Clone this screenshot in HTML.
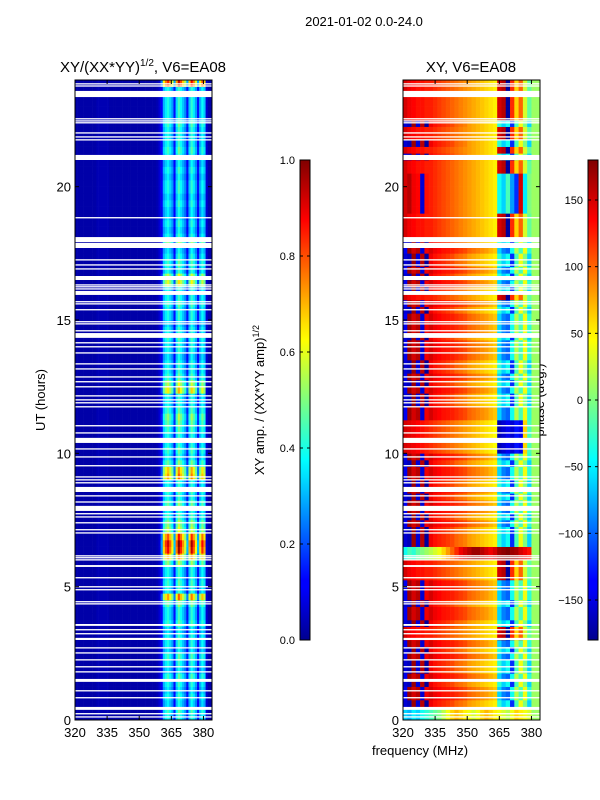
<!DOCTYPE html>
<html><head><meta charset="utf-8">
<style>
body{margin:0;background:#fff;}
svg{display:block;font-family:"Liberation Sans","DejaVu Sans",sans-serif;}
</style></head>
<body>
<svg id="fig" width="600" height="800" viewBox="0 0 600 800">
<rect x="0" y="0" width="600" height="800" fill="#fff"/>
<text x="364" y="26" font-size="13" text-anchor="middle">2021-01-02 0.0-24.0</text>
<text x="143" y="72" font-size="15" text-anchor="middle">XY/(XX*YY)<tspan font-size="10" dy="-6">1/2</tspan><tspan dy="6">, V6=EA08</tspan></text>
<text x="471" y="72" font-size="15" text-anchor="middle">XY, V6=EA08</text>
<text transform="translate(45,400) rotate(-90)" font-size="13" text-anchor="middle">UT (hours)</text>
<text transform="translate(264,400) rotate(-90)" font-size="13" text-anchor="middle">XY amp. / (XX*YY amp)<tspan font-size="9" dy="-5">1/2</tspan></text>
<text transform="translate(544,400) rotate(-90)" font-size="13" text-anchor="middle">phase (deg.)</text>
<text x="420" y="755" font-size="13" text-anchor="middle">frequency (MHz)</text>
<defs>
<linearGradient id="jetg" x1="0" y1="1" x2="0" y2="0">
<stop offset="0" stop-color="#00008f"/><stop offset="0.11" stop-color="#0000ff"/><stop offset="0.125" stop-color="#0000ff"/>
<stop offset="0.34" stop-color="#00dfff"/><stop offset="0.375" stop-color="#00ffff"/><stop offset="0.5" stop-color="#7fff7f"/>
<stop offset="0.625" stop-color="#ffff00"/><stop offset="0.66" stop-color="#ffdf00"/><stop offset="0.875" stop-color="#ff0000"/><stop offset="1" stop-color="#800000"/>
</linearGradient>
</defs>
<g id="ampCells"></g>
<g id="phsCells"></g>
<g id="axes"></g>
</svg>
<script>
// ---- data ----
const freqStart = 320, freqEnd = 384;
const ampChannels = 64;   // 1 MHz channels
const phsChannels = 32;   // 2 MHz channels
const timeBins = 96;      // quarter hours
const ampColBase = [0.04,0.04,0.04,0.04,0.04,0.04,0.04,0.04,0.04,0.04,0.05,0.05,0.05,0.05,0.05,0.05,0.04,0.04,0.04,0.04,
  0.04,0.04,0.04,0.04,0.04,0.04,0.04,0.04,0.04,0.04,0.04,0.04,0.04,0.04,0.04,0.04,0.04,0.04,0.05,0.08,
  0.12,0.3,0.36,0.4,0.34,0.28,0.14,0.34,0.44,0.38,0.32,0.26,0.14,0.32,0.42,0.36,0.28,0.14,0.3,0.38,0.32,0.08,0.04,0.04];
const ampRowGain = [1.0,1.1,0.9,1.0, 0.9,1.0,1.1,0.9, 1.0,1.1,0.9,1.0, 1.0,0.9,1.1,1.0, 1.0,1.2,1.8,1.0,
  1.1,1.0,1.0,1.3, 1.8,2.2,2.3,2.0, 1.4,1.3,1.1,1.0, 1.2,1.0,1.1,1.0, 1.8,1.7,1.2,1.0,
  1.1,1.0,1.0,1.1, 1.2,1.3,1.1,1.0, 1.0,1.6,1.4,1.1, 1.0,1.0,0.9,1.0, 1.0,1.1,1.0,0.9,
  1.0,1.0,1.1,1.0, 1.0,1.5,1.4,1.0, 1.1,1.0,0.9,1.3, 1.0,0.9,1.0,0.9, 0.9,1.0,0.9,1.0,
  1.0,0.9,1.0,0.9, 1.0,1.1,1.0,1.0, 1.0,1.1,1.0,1.0, 1.0,1.0,1.0,2.1];
const phaseProfiles = {
  A:[-140,170,150,160,-150,140,150,140,135,130,128,125,120,115,110,100,95,90,85,80,72,65,-60,-90,-100,-40,20,-20,40,-30,10,10],
  B:[150,140,135,130,130,125,125,120,115,110,105,100,95,90,85,80,75,70,65,60,55,50,150,160,-170,120,60,100,30,-10,10,10],
  C:[-150,-160,170,-150,160,-170,140,130,125,120,115,110,100,95,90,80,75,70,65,60,55,50,-30,-60,-40,-120,-20,40,0,-60,10,10],
  D:[-40,-20,-30,-10,0,10,20,30,40,60,80,100,120,140,150,160,170,170,160,150,140,150,170,175,180,170,165,150,140,130,10,10],
  E:[-60,-70,-50,-60,-40,-30,-20,-10,0,20,40,60,70,60,50,40,30,40,60,70,60,50,40,30,20,40,60,50,40,30,10,10],
  F:[150,145,140,135,130,125,120,115,110,105,100,95,90,85,80,75,70,65,60,55,50,45,-160,-150,-140,-150,-130,-140,60,-20,10,10],
  G:[150,160,140,135,-150,130,125,120,115,110,105,100,95,90,85,80,75,70,65,60,55,50,-40,-60,-20,-80,-120,150,-50,0,10,10]
};
const phaseRowType = "EECAACACCACABBCAACAAABBBDDCCCACAACACAACAFFFFFAACCACACCAAACAAACABCACACCACBBBBGGGGGGBBCBCBBCBBBBBB";
const flagStart = [23.83,23.75,23.36,22.52,22.44,22.37,21.99,21.84,21.73,21.0,18.81,17.92,17.7,17.23,17.04,16.89,16.5,16.29,16.22,16.14,15.94,15.66,15.58,15.36,14.91,14.83,14.57,14.33,14.12,13.97,13.74,13.33,13.14,12.84,12.66,12.47,12.13,11.98,11.87,11.72,11.01,10.74,10.39,10.14,9.84,9.51,9.09,8.98,8.87,8.55,8.38,8.15,7.84,7.71,7.59,7.37,7.11,6.99,6.13,6.06,5.98,5.74,5.31,4.97,4.86,4.41,4.33,3.53,3.36,3.21,3.0,2.68,2.49,2.23,1.97,1.78,1.43,1.07,0.81,0.38,0.21,0.09];
const flagEnd   = [23.88,23.8,23.59,22.57,22.49,22.42,22.04,21.89,21.78,21.19,18.86,18.11,17.89,17.28,17.09,16.94,16.65,16.34,16.27,16.19,16.09,15.71,15.63,15.41,14.96,14.88,14.62,14.51,14.17,14.02,13.79,13.38,13.19,12.89,12.71,12.52,12.18,12.03,11.92,11.77,11.06,10.79,10.58,10.19,9.89,9.56,9.14,9.03,8.92,8.74,8.43,8.2,8.03,7.76,7.64,7.42,7.16,7.04,6.18,6.11,6.03,5.81,5.36,5.02,4.91,4.46,4.38,3.6,3.41,3.26,3.08,2.73,2.54,2.28,2.02,1.83,1.54,1.12,0.86,0.49,0.26,0.14];
const yTicks = [0,5,10,15,20];
const xTicks = [320,335,350,365,380];
const ampCbTicks = [0.0,0.2,0.4,0.6,0.8,1.0];
const ampCbLabels = ["0.0","0.2","0.4","0.6","0.8","1.0"];
const phsCbTicks = [-150,-100,-50,0,50,100,150];
const phsCbLabels = ["\u2212150","\u2212100","\u221250","0","50","100","150"];

// ---- scales ----
const NS = "http://www.w3.org/2000/svg";
const panelW = 137, plotTop = 80, plotBottom = 720;
function xScale(f, x0){ return x0 + (f - freqStart) / (freqEnd - freqStart) * panelW; }
function yScale(h){ return plotBottom - h / 24 * (plotBottom - plotTop); }
function jet(v){
  v = Math.max(0, Math.min(1, v));
  const r = Math.max(0, Math.min(1, 1.5 - Math.abs(4*v - 3)));
  const g = Math.max(0, Math.min(1, 1.5 - Math.abs(4*v - 2)));
  const b = Math.max(0, Math.min(1, 1.5 - Math.abs(4*v - 1)));
  return "rgb(" + Math.round(r*255) + "," + Math.round(g*255) + "," + Math.round(b*255) + ")";
}
function mk(tag, attrs, parent){
  const e = document.createElementNS(NS, tag);
  for (const k in attrs) e.setAttribute(k, attrs[k]);
  parent.appendChild(e); return e;
}
const ampG = document.getElementById("ampCells");
const phsG = document.getElementById("phsCells");
const axG = document.getElementById("axes");

// amplitude heatmap
const aw = (freqEnd - freqStart) / ampChannels;
for (let r = 0; r < timeBins; r++){
  const h0 = r * 24 / timeBins, h1 = (r + 1) * 24 / timeBins;
  const gain = (ampRowGain[r] !== undefined) ? ampRowGain[r] : 1;
  for (let c = 0; c < ampChannels; c++){
    const base = ampColBase[c];
    const v = base > 0.1 ? base * gain : base;
    const xa = xScale(freqStart + c*aw, 75), xb = xScale(freqStart + (c+1)*aw, 75);
    const el = mk("rect", {x: xa.toFixed(2), y: yScale(h1).toFixed(2), width: (xb-xa+0.3).toFixed(2), height: (yScale(h0)-yScale(h1)+0.3).toFixed(2), fill: jet(v)}, ampG);
    
    
  }
}
// phase heatmap
const pw = (freqEnd - freqStart) / phsChannels;
for (let r = 0; r < timeBins; r++){
  const h0 = r * 24 / timeBins, h1 = (r + 1) * 24 / timeBins;
  const prof = phaseProfiles[phaseRowType[r]] || phaseProfiles.A;
  for (let c = 0; c < phsChannels; c++){
    const v = (prof[c] + 180) / 360;
    const xa = xScale(freqStart + c*pw, 403), xb = xScale(freqStart + (c+1)*pw, 403);
    const el = mk("rect", {x: xa.toFixed(2), y: yScale(h1).toFixed(2), width: (xb-xa+0.3).toFixed(2), height: (yScale(h0)-yScale(h1)+0.3).toFixed(2), fill: jet(v)}, phsG);
    
    
  }
}
// flagged rows
for (let i = 0; i < flagStart.length; i++){
  [75, 403].forEach(function(x0){
    const el = mk("rect", {x: x0, y: yScale(flagEnd[i]).toFixed(2), width: panelW, height: (yScale(flagStart[i]) - yScale(flagEnd[i])).toFixed(2), fill: "#fff"}, axG);
    
    
  });
}
// axes frames and ticks
[75, 403].forEach(function(x0, pi){
  const fr = mk("rect", {x: x0, y: plotTop, width: panelW, height: plotBottom-plotTop, fill: "none", stroke: "#000", "stroke-width": 1}, axG);
  
  
  yTicks.forEach(function(t){
    const y = yScale(t);
    const l1 = mk("line", {x1: x0, x2: x0+4, y1: y, y2: y, stroke: "#000"}, axG);
    
    
    const l2 = mk("line", {x1: x0+panelW-4, x2: x0+panelW, y1: y, y2: y, stroke: "#000"}, axG);
    
    
    const tx = mk("text", {x: x0-4, y: y+5, "font-size": 13, "text-anchor": "end"}, axG);
    tx.textContent = String(t);
    
    
  });
  xTicks.forEach(function(t){
    const x = xScale(t, x0);
    const l1 = mk("line", {x1: x, x2: x, y1: plotBottom, y2: plotBottom-4, stroke: "#000"}, axG);
    
    
    const l2 = mk("line", {x1: x, x2: x, y1: plotTop, y2: plotTop+4, stroke: "#000"}, axG);
    
    
    const tx = mk("text", {x: x, y: plotBottom+17, "font-size": 13, "text-anchor": "middle"}, axG);
    tx.textContent = String(t);
    
    
  });
});
// colorbars
function colorbar(x0, ticks, labels, vmin, vmax, name){
  const cb = mk("rect", {x: x0, y: 160, width: 10, height: 480, fill: "url(#jetg)", stroke: "#000", "stroke-width": 1}, axG);
  
  
  ticks.forEach(function(t, i){
    const y = 640 - (t - vmin) / (vmax - vmin) * 480;
    const l1 = mk("line", {x1: x0, x2: x0+3, y1: y, y2: y, stroke: "#000"}, axG);
    
    
    const l2 = mk("line", {x1: x0+7, x2: x0+10, y1: y, y2: y, stroke: "#000"}, axG);
    
    
    const tx = mk("text", {x: x0-5, y: y+4, "font-size": 11, "text-anchor": "end"}, axG);
    tx.textContent = labels[i];
    
    
  });
}
colorbar(300, ampCbTicks, ampCbLabels, 0, 1, 'amp-colorbar');
colorbar(588, phsCbTicks, phsCbLabels, -180, 180, 'phase-colorbar');
</script>
</body></html>
